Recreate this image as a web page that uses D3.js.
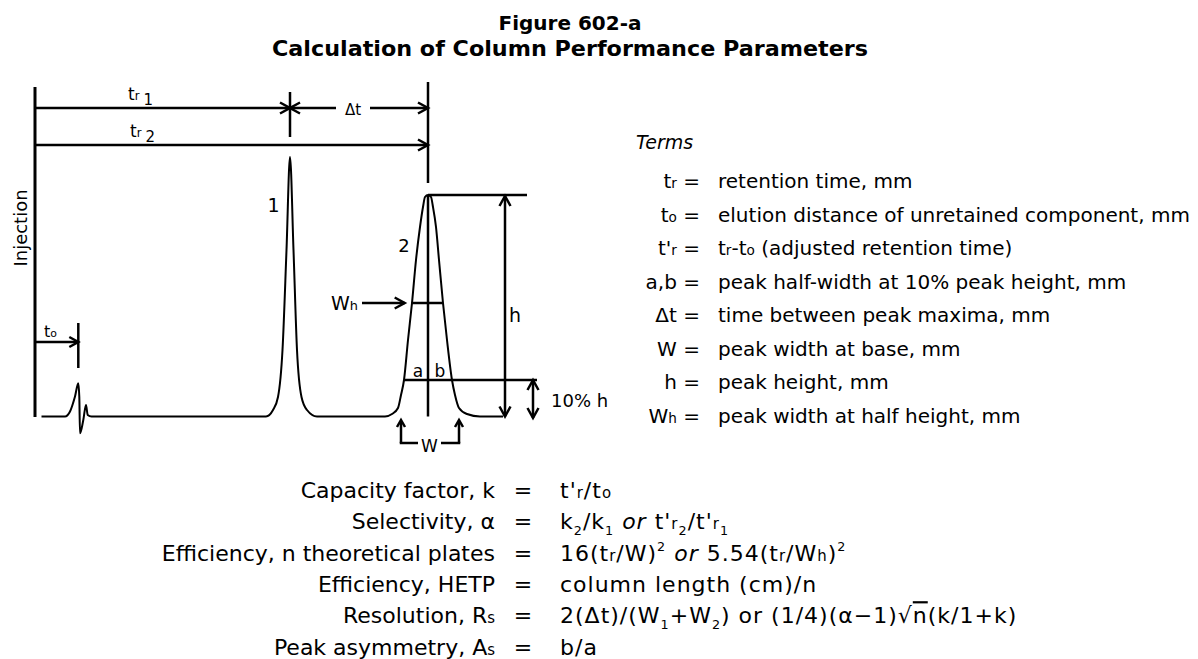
<!DOCTYPE html>
<html>
<head>
<meta charset="utf-8">
<script src="https://cdn.jsdelivr.net/npm/d3@7"></script>
<style>
  body { margin: 0; background: #fff; }
  svg { display: block; }
  text { font-family: "DejaVu Sans", sans-serif; fill: #000; }
</style>
</head>
<body>
<div id="chart"></div>
<script>
// chromatogram: [mm after injection, signal mm]
const baselineEnds = [3.25, 234];
const unretainedPeak = [[15, 0], [17.5, 2.5], [20, 10], [21.65, 16.6], [22.15, 9.9], [22.5, -8.4],
  [24.15, -1.75], [25.5, 5.75], [26.35, 0.75], [28.25, 0]];
const peakOne = [[115.5, 0], [119, 3.25], [121.5, 9.75], [123.75, 33.25], [125.75, 83.25], [127.5, 129.75],
  [129.25, 83.25], [131, 33.25], [133.25, 9.75], [136, 3.25], [141, 0]];
const peakTwo = [[175, 0], [178.5, 1.25], [181.5, 4.25], [183, 10.75], [184.5, 18.25], [186.5, 38.25],
  [188.5, 56.75], [190.5, 78.25], [192.5, 94.75], [194, 104.75], [195, 109.75], [196.5, 110.75],
  [198, 109.75], [199, 104.75], [200.5, 94.75], [202, 78.25], [204, 56.75], [206, 38.25],
  [208.5, 18.25], [210, 10.75], [212, 4.25], [216, 1.25], [222.5, 0]];

// retention marks: to, tr1, tr2
const markTimes = [21.65, 127.5, 196.5];
// peak 2: height, half height, 10% level
const peakTwoLevels = [110.75, 56.75, 18.25];
const halfWidthAt = [188.35, 203.85];
const tenPctWidthAt = [184.5, 208.85];
const baseWidthAt = [183, 212];

// text blocks: [text, kind] segments
const termSymbols = [
  [['t'], ['r', 'sm']],
  [['t'], ['o', 'sm']],
  [["t'"], ['r', 'sm']],
  [['a,b']],
  [['\u0394t']],
  [['W']],
  [['h']],
  [['W'], ['h', 'sm']]
];
const termMeanings = [
  [['retention time, mm']],
  [['elution distance of unretained component, mm']],
  [['t'], ['r', 'sm'], ['-t'], ['o', 'sm'], [' (adjusted retention time)']],
  [['peak half-width at 10% peak height, mm']],
  [['time between peak maxima, mm']],
  [['peak width at base, mm']],
  [['peak height, mm']],
  [['peak width at half height, mm']]
];
const paramNames = [
  [['Capacity factor, k']],
  [['Selectivity, \u03b1']],
  [['Efficiency, n theoretical plates']],
  [['Efficiency, HETP']],
  [['Resolution, R'], ['s', 'sm']],
  [['Peak asymmetry, A'], ['s', 'sm']]
];
const paramFormulas = [
  [["t'"], ['r', 'sm'], ['/t'], ['o', 'sm']],
  [['k'], ['2', 'sub'], ['/k'], ['1', 'sub'], [' '], ['or', 'it'], [" t'"], ['r', 'sm'], ['2', 'sub'], ["/t'"], ['r', 'sm'], ['1', 'sub']],
  [['16(t'], ['r', 'sm'], ['/W)'], ['2', 'sup'], [' '], ['or', 'it'], [' 5.54(t'], ['r', 'sm'], ['/W'], ['h', 'sm'], [')'], ['2', 'sup']],
  [['column length (cm)/n']],
  [['2(\u0394t)/(W'], ['1', 'sub'], ['+W'], ['2', 'sub'], [') or (1/4)(\u03b1\u22121)\u221a'], ['n', 'ol'], ['(k/1+k)']],
  [['b/a']]
];

const width = 1198, height = 659;
const svg = d3.select('#chart').append('svg').attr('width', width).attr('height', height);

const x = d3.scaleLinear().domain([0, 100]).range([35, 235]);
const y = d3.scaleLinear().domain([0, 100]).range([416.5, 216.5]);

function rich(sel, segs, size) {
  let shift = 0;
  segs.forEach(([txt, kind]) => {
    const ts = sel.append('tspan').text(txt).attr('xml:space', 'preserve');
    let want = 0;
    if (kind === 'sm') ts.attr('font-size', size * 0.68);
    if (kind === 'sub') { ts.attr('font-size', size * 0.58); want = size * 0.28; }
    if (kind === 'sup') { ts.attr('font-size', size * 0.58); want = -size * 0.42; }
    if (kind === 'it') ts.style('font-style', 'italic');
    if (kind === 'ol') ts.style('text-decoration', 'overline');
    if (want !== shift) ts.attr('dy', want - shift);
    shift = want;
  });
  return sel;
}

function seg(g, x1, y1, x2, y2, w) {
  g.append('line').attr('x1', x1).attr('y1', y1).attr('x2', x2).attr('y2', y2)
    .attr('stroke', '#000').attr('stroke-width', w || 2.5);
}

function arrow(g, px, py, dir, len, half) {
  len = len || 10; half = half || 5.5;
  let p;
  if (dir === 'right') p = [[px - len, py - half], [px, py], [px - len, py + half]];
  if (dir === 'left') p = [[px + len, py - half], [px, py], [px + len, py + half]];
  if (dir === 'up') p = [[px - half, py + len], [px, py], [px + half, py + len]];
  if (dir === 'down') p = [[px - half, py - len], [px, py], [px + half, py - len]];
  g.append('path').attr('d', d3.line()(p)).attr('fill', 'none')
    .attr('stroke', '#000').attr('stroke-width', 2.5);
}

// title
svg.append('text').attr('x', 570).attr('y', 30).attr('text-anchor', 'middle')
  .attr('font-weight', 'bold').attr('font-size', 20).text('Figure 602-a');
svg.append('text').attr('x', 570).attr('y', 56).attr('text-anchor', 'middle')
  .attr('font-weight', 'bold').attr('font-size', 21)
  .attr('textLength', 596).attr('lengthAdjust', 'spacingAndGlyphs')
  .text('Calculation of Column Performance Parameters');

const g = svg.append('g');
const [tO, tR1, tR2] = markTimes;
const [hLev, halfLev, tenLev] = peakTwoLevels;

// injection
seg(g, x(0), 87, x(0), y(0) + 0.5, 3);
g.append('text').attr('transform', 'translate(27,228) rotate(-90)').attr('text-anchor', 'middle')
  .attr('font-size', 18).text('Injection');

// tr1 / delta t / tr2 dimensions
const yTr1 = 108, yTr2 = 145;
seg(g, x(0), yTr1, x(tR1), yTr1);
arrow(g, x(tR1), yTr1, 'right');
seg(g, x(tR1), 92, x(tR1), 137);
seg(g, x(tR1), yTr1, 336, yTr1);
seg(g, 370, yTr1, x(tR2), yTr1);
arrow(g, x(tR1), yTr1, 'left');
arrow(g, x(tR2), yTr1, 'right');
g.append('text').attr('x', 353).attr('y', 115).attr('text-anchor', 'middle').attr('font-size', 15).text('\u0394t');
seg(g, x(0), yTr2, x(tR2), yTr2);
arrow(g, x(tR2), yTr2, 'right');
seg(g, x(tR2), 82, x(tR2), 183);

const tr1Label = g.append('text').attr('x', 128).attr('y', 100).attr('font-size', 17);
rich(tr1Label, [['t'], ['r', 'sm']], 17);
tr1Label.append('tspan').attr('dx', 4).attr('dy', 5).attr('font-size', 15).text('1');
const tr2Label = g.append('text').attr('x', 130).attr('y', 137).attr('font-size', 17);
rich(tr2Label, [['t'], ['r', 'sm']], 17);
tr2Label.append('tspan').attr('dx', 4).attr('dy', 5).attr('font-size', 15).text('2');

// t0
seg(g, x(0), 342, x(tO), 342);
arrow(g, x(tO), 342, 'right', 9, 5);
seg(g, x(tO), 323, x(tO), 368);
rich(g.append('text').attr('x', 44).attr('y', 337).attr('font-size', 16), [['t'], ['o', 'sm']], 16);

// trace
const trace = [[baselineEnds[0], 0], ...unretainedPeak, ...peakOne, ...peakTwo, [baselineEnds[1], 0]];
g.append('path').datum(trace)
  .attr('d', d3.line().x(d => x(d[0])).y(d => y(d[1])).curve(d3.curveMonotoneX))
  .attr('fill', 'none').attr('stroke', '#000').attr('stroke-width', 2);

g.append('text').attr('x', 273.5).attr('y', 212).attr('text-anchor', 'middle').attr('font-size', 19).text('1');
g.append('text').attr('x', 404).attr('y', 252).attr('text-anchor', 'middle').attr('font-size', 18).text('2');

// peak 2 construction
seg(g, x(tR2), y(hLev), x(tR2), y(0));
seg(g, x(tR2), y(hLev), 527, y(hLev));
seg(g, 505, y(hLev) + 1, 505, y(0));
arrow(g, 505, y(hLev) + 1, 'up');
arrow(g, 505, y(0), 'down');
g.append('text').attr('x', 509).attr('y', 322).attr('font-size', 19).text('h');

seg(g, x(tenPctWidthAt[0]), y(tenLev), 537, y(tenLev));
seg(g, 533, y(tenLev), 533, 418);
arrow(g, 533, y(tenLev), 'up');
arrow(g, 533, 418, 'down');
g.append('text').attr('x', 551).attr('y', 407).attr('font-size', 18).text('10% h');
g.append('text').attr('x', 418).attr('y', 377).attr('text-anchor', 'middle').attr('font-size', 17).text('a');
g.append('text').attr('x', 440).attr('y', 377).attr('text-anchor', 'middle').attr('font-size', 17).text('b');

seg(g, x(halfWidthAt[0]), y(halfLev), x(halfWidthAt[1]), y(halfLev));
seg(g, 362, y(halfLev), x(halfWidthAt[0]) - 7, y(halfLev));
arrow(g, x(halfWidthAt[0]) - 7, y(halfLev), 'right');
rich(g.append('text').attr('x', 358).attr('y', 310).attr('text-anchor', 'end').attr('font-size', 19),
  [['W'], ['h', 'sm']], 19);

// W bracket
const wl = x(baseWidthAt[0]), wr = x(baseWidthAt[1]);
seg(g, wl, 421, wl, 443);
seg(g, wr, 421, wr, 443);
arrow(g, wl, 420, 'up', 7, 4);
arrow(g, wr, 420, 'up', 7, 4);
seg(g, wl - 1.25, 443, 418, 443);
seg(g, 441, 443, wr + 1.25, 443);
g.append('text').attr('x', 429.5).attr('y', 452).attr('text-anchor', 'middle').attr('font-size', 17).text('W');

// terms
svg.append('text').attr('x', 636).attr('y', 149).attr('font-size', 19)
  .style('font-style', 'italic').text('Terms');
termSymbols.forEach((s, i) => {
  const yy = 188 + 33.5 * i;
  rich(svg.append('text').attr('x', 700).attr('y', yy).attr('text-anchor', 'end').attr('font-size', 20),
    s.concat([[' =']]), 20);
  rich(svg.append('text').attr('x', 718).attr('y', yy).attr('font-size', 20), termMeanings[i], 20);
});

// parameters
paramNames.forEach((s, i) => {
  const yy = 498 + 31.3 * i;
  rich(svg.append('text').attr('x', 495).attr('y', yy).attr('text-anchor', 'end').attr('font-size', 22), s, 22);
  svg.append('text').attr('x', 523).attr('y', yy).attr('text-anchor', 'middle').attr('font-size', 22).text('=');
  rich(svg.append('text').attr('x', 560).attr('y', yy).attr('font-size', 22)
    .style('letter-spacing', '1px'), paramFormulas[i], 22);
});
</script>
</body>
</html>
